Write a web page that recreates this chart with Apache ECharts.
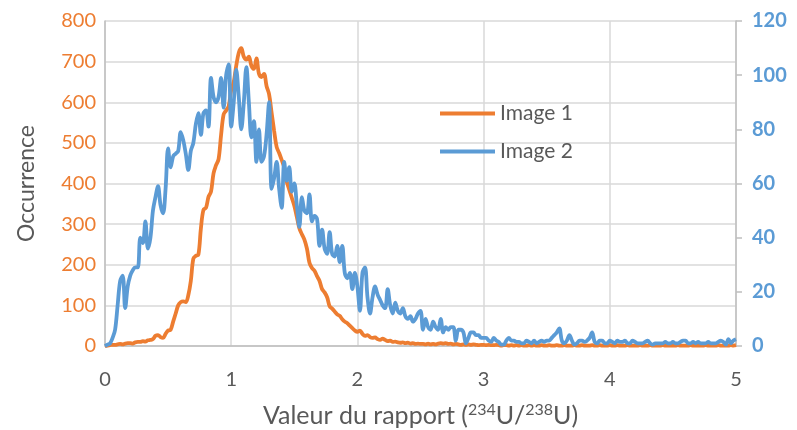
<!DOCTYPE html>
<html>
<head>
<meta charset="utf-8">
<script src="https://cdn.jsdelivr.net/npm/echarts/dist/echarts.min.js"></script>
<style>
html,body{margin:0;padding:0;background:#ffffff;}
#chart{width:797px;height:430px;}
</style>
</head>
<body>
<div id="chart"></div>
<script>
// x values: ratio 234U/238U sampled every 0.02 from 0 to 5
const xStep = 0.02;

// Image 1 (left axis, occurrence)
const image1 = [
  0,1,2,3,3,4,5,4,6,7,
  7,6,9,10,10,12,11,14,15,17,
  25,27,22,20,30,38,40,60,80,100,
  108,110,108,125,160,215,222,225,290,335,
  340,367,380,425,445,460,520,570,580,590,
  630,650,690,722,733,712,705,712,690,682,
  708,670,662,670,640,620,575,530,490,475,
  458,440,405,385,365,345,318,290,275,262,
  240,205,192,185,172,160,140,132,120,98,
  92,85,78,74,66,60,56,50,44,38,
  35,38,30,25,27,22,20,21,17,15,
  18,15,12,13,10,11,9,8,9,7,
  8,6,7,5,6,5,5,4,6,4,
  5,4,6,7,6,7,5,6,4,5,
  4,3,4,3,4,3,4,3,2,3,
  3,2,3,2,2,3,2,1,2,2,
  1,2,1,2,1,2,1,1,2,1,
  2,1,1,2,1,1,2,1,1,2,
  1,1,2,1,1,1,2,1,1,2,
  1,1,1,2,1,1,2,1,1,1,
  2,1,1,2,1,1,1,2,1,1,
  1,1,2,1,1,1,2,1,1,1,
  1,2,1,1,1,1,1,2,1,1,
  1,1,2,1,1,1,1,1,2,1,
  1,1,1,2,1,1,1,1,2,1,
  2
];

// Image 2 (right axis)
const image2 = [
  0,0.5,1,3,6,15,24,26,14,22,
  26,28,29,29,40,38,46,36,40,50,
  55,59,52,49,58,73,66,70,71,72,
  79,76,71,65,72,75,82,86,78,86,
  87,81,99,92,90,92,99,88,100,104,
  81,90,102,92,80,90,103,90,77,83,
  68,80,68,70,78,90,58,62,68,58,
  51,68,61,66,57,60,52,44,55,50,
  49,56,46,48,47,37,43,36,34,42,
  34,33,37,31,37,27,25,27,21,27,
  22,13,27,29,18,12,18,22,19,17,
  15,14,21,15,12,16,13,12,14,11,
  10,11,9,10,12,13,6,10,7,6,
  9,7,6,10,5,7,6,7,7,2,
  6,6,5,1,3,5,5,4,4,3,
  3,3,2,1.5,3,2,1.5,0.5,0.5,2,
  3,2,2,1.5,1.5,1,1,2,1.5,1,
  2,1,1.5,2,1.5,2,2,3,4,5,
  6.5,2,1,2,4,2,0.5,1,2,2,
  1.5,2,3,5,1.5,1,2,2,1,1,
  2,1.5,1,2,1.5,1.5,2,1,1,2,
  1.5,1,1,1,1.5,2,1,0.5,1,1,
  1,1,1.5,1,1,1.5,1,1,1.5,2,
  2,1,1,1.5,1,1.5,1,1,1,1.5,
  1,1,1,1.5,2,1.5,0.5,2.5,1,2,
  2.5
];

const seriesNames = ['Image 1', 'Image 2'];
const xValues = image1.map((_, i) => +(i * xStep).toFixed(2));

const FONT = 'Lato';
const GREY = '#595959';
const ORANGE = '#ED7D31';
const BLUE = '#5B9BD5';

const chart = echarts.init(document.getElementById('chart'), null, {renderer: 'canvas'});
chart.setOption({
  animation: false,
  backgroundColor: '#ffffff',
  grid: {left: 105, right: 61, top: 21, bottom: 84, containLabel: false, outerBoundsMode: 'none'},
  legend: {
    data: seriesNames,
    orient: 'vertical',
    left: 440,
    top: 103,
    padding: 0,
    icon: 'rect',
    itemWidth: 55,
    itemHeight: 4,
    itemGap: 17,
    textStyle: {fontFamily: FONT, fontSize: 21, color: GREY, padding: [0, 0, 0, 0]}
  },
  xAxis: {
    type: 'value',
    min: 0, max: 5, interval: 1,
    axisLine: {show: true, lineStyle: {color: '#BFBFBF', width: 1.5}},
    axisTick: {show: false},
    axisLabel: {margin: 24, fontFamily: FONT, fontSize: 20, color: GREY},
    splitLine: {show: true, lineStyle: {color: '#D9D9D9', width: 1.5}},
    name: 'Valeur du rapport ({sup|234}U/{sup|238}U)',
    nameLocation: 'middle',
    nameGap: 56,
    nameTextStyle: {
      fontFamily: FONT, fontSize: 25, color: GREY,
      rich: {
        sup: {fontFamily: FONT, fontSize: 16, color: GREY, verticalAlign: 'top', padding: [0, 0, 11, 0]}
      }
    }
  },
  yAxis: [
    {
      type: 'value',
      position: 'left',
      min: 0, max: 800, interval: 100,
      axisLine: {show: true, lineStyle: {color: '#BFBFBF', width: 1.5}},
      axisTick: {show: false},
      axisLabel: {margin: 9, fontFamily: FONT, fontSize: 20, color: ORANGE},
      splitLine: {show: true, lineStyle: {color: '#D9D9D9', width: 1.5}},
      name: 'Occurrence',
      nameLocation: 'middle',
      nameRotate: 90,
      nameGap: 67,
      nameTextStyle: {fontFamily: FONT, fontSize: 23, color: GREY}
    },
    {
      type: 'value',
      position: 'right',
      min: 0, max: 120, interval: 20,
      axisLine: {show: true, lineStyle: {color: '#BFBFBF', width: 1.5}},
      axisTick: {show: true, inside: false, length: 6, lineStyle: {color: '#BFBFBF', width: 1.5}},
      axisLabel: {margin: 16, fontFamily: FONT, fontSize: 20, fontWeight: 'bold', color: BLUE},
      splitLine: {show: false}
    }
  ],
  series: [
    {
      name: seriesNames[0],
      type: 'line',
      yAxisIndex: 0,
      data: xValues.map((x, i) => [x, image1[i]]),
      symbol: 'none',
      smooth: 0.35,
      lineStyle: {color: ORANGE, width: 3.8},
      itemStyle: {color: ORANGE}
    },
    {
      name: seriesNames[1],
      type: 'line',
      yAxisIndex: 1,
      data: xValues.map((x, i) => [x, image2[i]]),
      symbol: 'none',
      smooth: 0.35,
      lineStyle: {color: BLUE, width: 3.8},
      itemStyle: {color: BLUE}
    }
  ]
});
</script>
</body>
</html>
